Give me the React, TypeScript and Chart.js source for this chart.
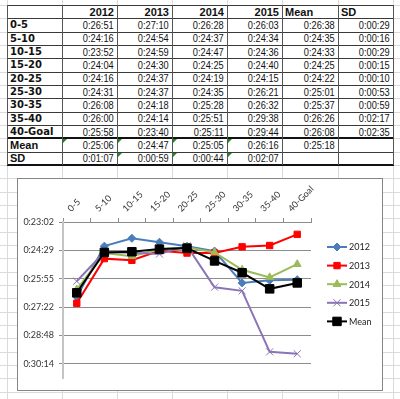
import React, { useEffect, useRef } from 'react';
import { Chart, registerables } from 'chart.js';
import { drawPoint } from 'chart.js/helpers';

Chart.register(...registerables);

// ---------- data ----------
const SEGMENTS = ['0-5', '5-10', '10-15', '15-20', '20-25', '25-30', '30-35', '35-40', '40-Goal'];
const YEARS = ['2012', '2013', '2014', '2015'];
const T2012 = ['0:26:51', '0:24:16', '0:23:52', '0:24:04', '0:24:16', '0:24:31', '0:26:08', '0:26:00', '0:25:58'];
const T2013 = ['0:27:10', '0:24:54', '0:24:59', '0:24:30', '0:24:37', '0:24:37', '0:24:18', '0:24:14', '0:23:40'];
const T2014 = ['0:26:28', '0:24:37', '0:24:47', '0:24:25', '0:24:19', '0:24:35', '0:25:28', '0:25:51', '0:25:11'];
const T2015 = ['0:26:03', '0:24:34', '0:24:36', '0:24:40', '0:24:15', '0:26:21', '0:26:32', '0:29:38', '0:29:44'];
const SEG_MEAN = ['0:26:38', '0:24:35', '0:24:33', '0:24:25', '0:24:22', '0:25:01', '0:25:37', '0:26:26', '0:26:08'];
const SEG_SD = ['0:00:29', '0:00:16', '0:00:29', '0:00:15', '0:00:10', '0:00:53', '0:00:59', '0:02:17', '0:02:35'];
const YEAR_MEANS = ['0:25:06', '0:24:47', '0:25:05', '0:26:16'];
const OVERALL_MEAN = '0:25:18';
const YEAR_SDS = ['0:01:07', '0:00:59', '0:00:44', '0:02:07'];
const Y_TICK_VALUES = [0.016, 0.017, 0.018, 0.019, 0.02, 0.021];
const Y_TICK_LABELS = ['0:23:02', '0:24:29', '0:25:55', '0:27:22', '0:28:48', '0:30:14'];
const Y_MIN = 0.016;
const Y_MAX = 0.0215;

const toDays = (t: string) => {
  const [h, m, s] = t.split(':').map(Number);
  return (h * 3600 + m * 60 + s) / 86400;
};

// ---------- layout ----------
const ROW_H = 40 / 3;
const TABLE_TOP = 5;
const COL_X = [7, 62, 117, 172, 227, 282, 338, 393];
const GRID_COLOR = '#dadada';
const CHART_FONT = 'Lato, "Open Sans", sans-serif';

const seriesStyles = [
  { color: '#4A7EBB', pointStyle: 'rectRot', radius: 4 },
  { color: '#FF0000', pointStyle: 'rect', radius: 4.5 },
  { color: '#9BBB59', pointStyle: 'triangle', radius: 4.5 },
  { color: '#8A74B5', pointStyle: 'crossRot', radius: 5 },
  { color: '#000000', pointStyle: 'rect', radius: 6 },
];

const legendPlugin = {
  id: 'sideLegend',
  afterDraw(chart: any) {
    const ctx = chart.ctx;
    const x0 = chart.chartArea.right + 16;
    const y0 = chart.chartArea.top + 25;
    chart.data.datasets.forEach((ds: any, i: number) => {
      const y = y0 + i * 18.6;
      ctx.save();
      ctx.strokeStyle = ds.borderColor;
      ctx.lineWidth = 2;
      ctx.beginPath();
      ctx.moveTo(x0, y);
      ctx.lineTo(x0 + 20, y);
      ctx.stroke();
      ctx.fillStyle = ds.pointBackgroundColor;
      ctx.strokeStyle = ds.pointBorderColor;
      ctx.lineWidth = ds.pointBorderWidth;
      drawPoint(ctx, { pointStyle: ds.pointStyle, radius: ds.pointRadius, rotation: 0, borderWidth: ds.pointBorderWidth }, x0 + 10, y);
      ctx.fillStyle = '#222';
      ctx.font = '9px ' + CHART_FONT;
      ctx.textBaseline = 'middle';
      ctx.textAlign = 'left';
      ctx.fillText(ds.label, x0 + 22, y + 0.5);
      ctx.restore();
    });
  },
};

function ChartBox() {
  const ref = useRef<HTMLCanvasElement>(null);
  useEffect(() => {
    if (!ref.current) return;
    const seriesData = [T2012, T2013, T2014, T2015, SEG_MEAN];
    const labels = [...YEARS, 'Mean'];
    const datasets = seriesData.map((arr, i) => {
      const st = seriesStyles[i];
      return {
        label: labels[i],
        data: arr.map(toDays),
        borderColor: st.color,
        backgroundColor: st.color,
        pointBackgroundColor: st.color,
        pointBorderColor: st.color,
        pointBorderWidth: 1,
        pointStyle: st.pointStyle,
        pointRadius: st.radius,
        borderWidth: 2,
        tension: 0,
        fill: false,
        order: 5 - i,
      };
    });
    const chart = new Chart(ref.current, {
      type: 'line',
      data: { labels: SEGMENTS, datasets: datasets as any },
      options: {
        responsive: false,
        animation: false,
        devicePixelRatio: 1,
        layout: { padding: { left: 0, top: 0, right: 71, bottom: 12 }, autoPadding: false } as any,
        plugins: { legend: { display: false }, tooltip: { enabled: false } },
        scales: {
          x: {
            position: 'top',
            offset: true,
            grid: { drawOnChartArea: false, drawTicks: true, tickLength: 4, color: '#8c8c8c', offset: true },
            border: { display: true, color: '#8c8c8c', width: 1 },
            ticks: {
              minRotation: 45,
              maxRotation: 45,
              autoSkip: false,
              padding: 4,
              color: '#333',
              font: { family: CHART_FONT, size: 9 },
            },
            afterFit: (s: any) => {
              s.height = 43;
            },
          },
          y: {
            reverse: true,
            min: Y_MIN,
            max: Y_MAX,
            afterBuildTicks: (s: any) => {
              s.ticks = Y_TICK_VALUES.map((v) => ({ value: v }));
            },
            ticks: {
              padding: 5,
              color: '#333',
              font: { family: CHART_FONT, size: 9 },
              callback: (v: any) => {
                const idx = Y_TICK_VALUES.findIndex((t) => Math.abs(t - Number(v)) < 1e-9);
                return idx >= 0 ? Y_TICK_LABELS[idx] : '';
              },
            },
            grid: { color: '#8c8c8c', tickLength: 4, lineWidth: 1 },
            border: { display: true, color: '#c4c4c4', width: 2 },
            afterFit: (s: any) => {
              s.width = 45;
            },
          },
        },
      } as any,
      plugins: [legendPlugin],
    });
    return () => chart.destroy();
  }, []);
  return (
    <div
      style={{
        position: 'absolute',
        left: 17,
        top: 178,
        width: 366,
        height: 213,
        boxSizing: 'border-box',
        border: '1px solid #868686',
        background: '#fff',
      }}
    >
      <canvas ref={ref} width={364} height={211} style={{ display: 'block', width: 364, height: 211 }} />
    </div>
  );
}

function Table() {
  const rows: string[][] = [];
  rows.push(['', ...YEARS, 'Mean', 'SD']);
  SEGMENTS.forEach((seg, i) => {
    rows.push([seg, T2012[i], T2013[i], T2014[i], T2015[i], SEG_MEAN[i], SEG_SD[i]]);
  });
  rows.push(['Mean', ...YEAR_MEANS, OVERALL_MEAN, '']);
  rows.push(['SD', ...YEAR_SDS, '', '']);

  const cells: React.ReactNode[] = [];
  rows.forEach((row, r) => {
    row.forEach((text, c) => {
      const x = COL_X[c];
      const w = COL_X[c + 1] - COL_X[c];
      const y = TABLE_TOP + r * ROW_H;
      let font = '11px "Liberation Sans", Arial, sans-serif';
      let weight = 400;
      let align: 'flex-start' | 'flex-end' = 'flex-end';
      let pad = { paddingLeft: 0, paddingRight: 3 };
      let narrow = false;
      if (r === 0) {
        weight = 700;
        if (c >= 5) {
          align = 'flex-start';
          pad = { paddingLeft: 3, paddingRight: 0 };
        }
      } else if (c === 0) {
        align = 'flex-start';
        pad = { paddingLeft: 3, paddingRight: 0 };
        weight = 700;
        font = r >= 10 ? '11px "Liberation Sans", Arial, sans-serif' : '10px "DejaVu Sans", sans-serif';
      } else {
        narrow = true;
      }
      cells.push(
        <div
          key={`c${r}-${c}`}
          style={{
            position: 'absolute',
            left: x,
            top: y,
            width: w,
            height: ROW_H,
            display: 'flex',
            alignItems: 'center',
            justifyContent: align,
            boxSizing: 'border-box',
            ...pad,
            font,
            fontWeight: weight,
            color: '#111',
            whiteSpace: 'nowrap',
            lineHeight: 1,
            paddingTop: 1,
          }}
        >
          {narrow ? (
            <span style={{ display: 'inline-block', transform: 'scaleX(0.84)', transformOrigin: '100% 50%' }}>{text}</span>
          ) : (
            text
          )}
        </div>
      );
      const showTri = (r === 10 && c >= 1 && c <= 4) || (r === 11 && c >= 2 && c <= 4);
      if (showTri) {
        cells.push(
          <div
            key={`t${r}-${c}`}
            style={{
              position: 'absolute',
              left: x + 1,
              top: y + 1,
              width: 0,
              height: 0,
              borderTop: '4px solid #1f8a1f',
              borderRight: '4px solid transparent',
            }}
          />
        );
      }
    });
  });

  const lines: React.ReactNode[] = [];
  for (let k = 0; k <= rows.length; k++) {
    const thick = k === 10 || k === rows.length;
    lines.push(
      <div
        key={`h${k}`}
        style={{
          position: 'absolute',
          left: COL_X[0],
          top: Math.round(TABLE_TOP + k * ROW_H) - (thick ? 1 : 0),
          width: COL_X[COL_X.length - 1] - COL_X[0] + 1,
          height: thick ? 2 : 1,
          background: thick ? '#111' : '#3a3a3a',
        }}
      />
    );
  }
  COL_X.forEach((x, i) => {
    lines.push(
      <div
        key={`v${i}`}
        style={{
          position: 'absolute',
          left: x,
          top: TABLE_TOP,
          width: 1,
          height: rows.length * ROW_H,
          background: '#555',
        }}
      />
    );
  });

  return (
    <>
      <div
        style={{
          position: 'absolute',
          left: COL_X[0],
          top: TABLE_TOP,
          width: COL_X[COL_X.length - 1] - COL_X[0],
          height: rows.length * ROW_H,
          background: '#fff',
        }}
      />
      {cells}
      {lines}
    </>
  );
}

function SheetGrid() {
  const items: React.ReactNode[] = [];
  for (let k = 0; k < 31; k++) {
    const y = Math.round(TABLE_TOP + k * ROW_H);
    items.push(
      <div key={`gh${k}`} style={{ position: 'absolute', left: 0, top: y, width: 400, height: 1, background: GRID_COLOR }} />
    );
  }
  COL_X.forEach((x, i) => {
    items.push(
      <div key={`gv${i}`} style={{ position: 'absolute', left: x, top: 0, width: 1, height: 399, background: GRID_COLOR }} />
    );
  });
  return <>{items}</>;
}

export default function App() {
  return (
    <div
      style={{
        position: 'absolute',
        left: 0,
        top: 0,
        width: 400,
        height: 399,
        overflow: 'hidden',
        background: '#fff',
      }}
    >
      <SheetGrid />
      <Table />
      <ChartBox />
    </div>
  );
}
